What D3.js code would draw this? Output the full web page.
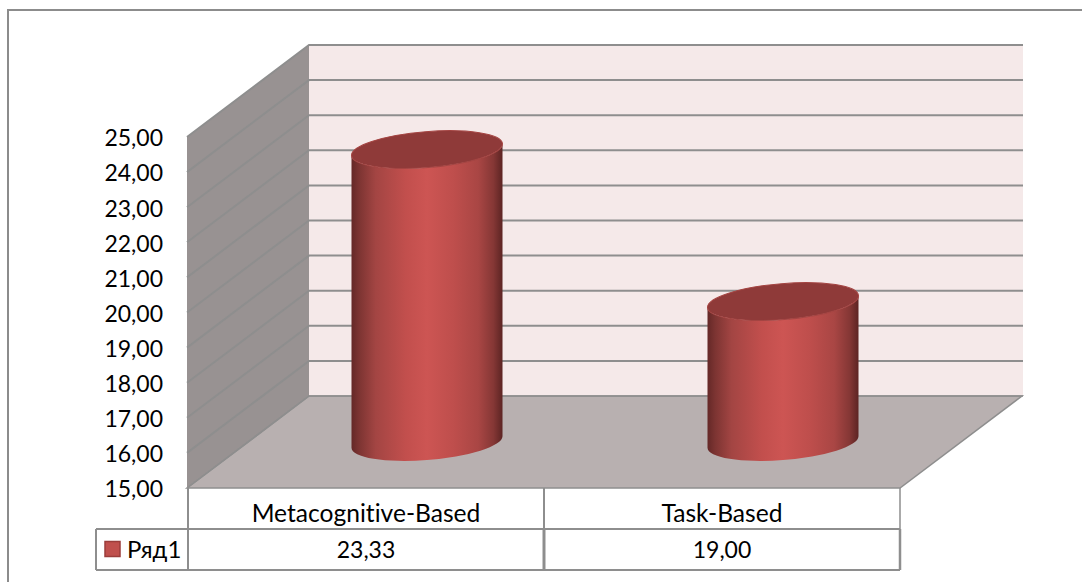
<!DOCTYPE html>
<html>
<head>
<meta charset="utf-8">
<title>Ряд1</title>
<script src="https://cdn.jsdelivr.net/npm/d3@7"></script>
<style>
    html, body { margin: 0; padding: 0; background: #fff; overflow: hidden; }
    text { font-family: Lato, "Open Sans", sans-serif; fill: #000; font-variant-ligatures: none; }
</style>
</head>
<body>
<script>
// Chart values
var categories = ["Metacognitive-Based", "Task-Based"];
var seriesName = "Ряд1";
var seriesValues = [23.33, 19.00];
var valueTicks = [15, 16, 17, 18, 19, 20, 21, 22, 23, 24, 25];

window.onload = function(){

    // SVG dimension variables
    var w = 1082, h = 582;

    // Plot box: front edge of the floor and how far the walls recede
    var left = 188, right = 900, bottom = 488, top = 137;
    var depthX = 122, depthY = -92;

    // Table rows under the plot
    var rowLine = 529, tableBottom = 570, legendLeft = 96;

    var gridColor = "#8e8e8e";

    var svg = d3.select("body")
        .append("svg")
        .attr("width", w)
        .attr("height", h)
        .style("display", "block");

    // Values use a comma as the decimal mark
    var format = function(v){ return d3.format(".2f")(v).replace(".", ","); };

    var x = d3.scaleBand()
        .domain(categories)
        .range([left, right]);

    var y = d3.scaleLinear()
        .domain([valueTicks[0], valueTicks[valueTicks.length - 1]])
        .range([bottom, top]);

    // Horizontal shading of the cylinders
    var grad = svg.append("defs").append("linearGradient")
        .attr("id", "barShade");
    var stops = [
        [0, "#642827"], [0.05, "#7c3432"], [0.16, "#a34543"], [0.36, "#c24f4d"],
        [0.5, "#cd5553"], [0.68, "#be4e4c"], [0.84, "#a94644"], [0.94, "#853735"], [1, "#5c2423"]
    ];
    grad.selectAll("stop")
        .data(stops)
        .enter()
        .append("stop")
        .attr("offset", function(d){ return d[0]; })
        .attr("stop-color", function(d){ return d[1]; });

    // Outer frame, runs off the right and bottom of the page
    svg.append("rect")
        .attr("x", 8)
        .attr("y", 10)
        .attr("width", w)
        .attr("height", h)
        .style("fill", "#fff")
        .style("stroke", "#8c8c8c")
        .style("stroke-width", 2);

    // Back wall
    svg.append("rect")
        .attr("x", left - 1 + depthX)
        .attr("y", top + depthY)
        .attr("width", right - left + 2)
        .attr("height", bottom - top)
        .style("fill", "#f5e9e9");

    // Side wall
    svg.append("polygon")
        .attr("points", [
            [left - 1, top], [left - 1 + depthX, top + depthY],
            [left - 1 + depthX, bottom + depthY], [left - 1, bottom]
        ].join(" "))
        .style("fill", "#989292");

    // Floor
    svg.append("polygon")
        .attr("points", [
            [left - 1, bottom], [left - 1 + depthX, bottom + depthY],
            [right + depthX, bottom + depthY], [right, bottom]
        ].join(" "))
        .style("fill", "#b8b0b0")
        .style("stroke", gridColor)
        .style("stroke-width", 1.5);

    // Gridlines wrap from the side wall onto the back wall
    svg.selectAll(".grid")
        .data(valueTicks)
        .enter()
        .append("polyline")
        .attr("class", "grid")
        .attr("points", function(d){
            return [
                [left - 1, y(d)], [left - 1 + depthX, y(d) + depthY],
                [right + depthX + 1, y(d) + depthY]
            ].join(" ");
        })
        .style("fill", "none")
        .style("stroke", gridColor)
        .style("stroke-width", function(d){ return d === 15 ? 1.5 : 2; });

    // Cylinder shape numbers
    var halfWidth = 75.5, ry = 18;
    var tilt = -4.6 * Math.PI / 180;
    var rx = Math.sqrt((halfWidth * halfWidth - ry * ry * Math.sin(tilt) * Math.sin(tilt)) / (Math.cos(tilt) * Math.cos(tilt)));
    var endRise = (rx * rx - ry * ry) * Math.sin(tilt) * Math.cos(tilt) / halfWidth;
    var tiltDeg = tilt * 180 / Math.PI;

    function centerX(i){ return x(categories[i]) + x.bandwidth() / 2 + depthX / 2; }
    function shift(v){ return y(v) + depthY / 2; }

    var arc = "A" + rx + " " + ry + " " + tiltDeg + " ";

    var bars = svg.selectAll(".bar")
        .data(seriesValues)
        .enter()
        .append("g")
        .attr("class", "bar");

    // Cylinder body
    bars.append("path")
        .attr("d", function(d, i){
            var cx = centerX(i), yTop = shift(d), yBase = shift(valueTicks[0]);
            return "M" + (cx - halfWidth) + " " + (yTop - endRise) +
                "L" + (cx - halfWidth) + " " + (yBase - endRise) +
                arc + "0 0 " + (cx + halfWidth) + " " + (yBase + endRise) +
                "L" + (cx + halfWidth) + " " + (yTop + endRise) +
                arc + "0 1 " + (cx - halfWidth) + " " + (yTop - endRise) + "Z";
        })
        .style("fill", "url(#barShade)");

    // Cylinder cap
    bars.append("ellipse")
        .attr("rx", rx)
        .attr("ry", ry)
        .attr("transform", function(d, i){
            return "translate(" + centerX(i) + "," + shift(d) + ") rotate(" + tiltDeg + ")";
        })
        .style("fill", "#8f3a39")
        .style("stroke", "#a44442")
        .style("stroke-width", 1);

    // Value axis
    var yAxis = d3.axisLeft(y)
        .tickValues(valueTicks)
        .tickSize(0)
        .tickPadding(0)
        .tickFormat(format);

    var axis = svg.append("g")
        .attr("class", "axis")
        .attr("transform", "translate(163,1.5)")
        .call(yAxis);
    axis.select(".domain").remove();
    axis.selectAll("text")
        .style("font-family", "Lato")
        .style("font-size", "23px");

    // Data table lines
    var lines = [
        [left, bottom, left, tableBottom, 2],
        [x.range()[0] + x.step(), bottom, x.range()[0] + x.step(), rowLine, 2],
        [x.range()[0] + x.step(), rowLine, x.range()[0] + x.step(), tableBottom, 3],
        [right, bottom, right, rowLine, 1.5],
        [right, rowLine, right, tableBottom, 2.5],
        [legendLeft, rowLine, right, rowLine, 2],
        [legendLeft, tableBottom, right, tableBottom, 2],
        [legendLeft, rowLine, legendLeft, tableBottom, 2]
    ];
    svg.selectAll(".tableLine")
        .data(lines)
        .enter()
        .append("line")
        .attr("class", "tableLine")
        .attr("x1", function(d){ return d[0]; })
        .attr("y1", function(d){ return d[1]; })
        .attr("x2", function(d){ return d[2]; })
        .attr("y2", function(d){ return d[3]; })
        .style("stroke", gridColor)
        .style("stroke-width", function(d){ return d[4]; });

    // Category row
    svg.selectAll(".catLabel")
        .data(categories)
        .enter()
        .append("text")
        .attr("class", "catLabel")
        .attr("text-anchor", "middle")
        .attr("x", function(d){ return x(d) + x.bandwidth() / 2; })
        .attr("y", 521.5)
        .style("font-size", "24.6px")
        .text(function(d){ return d; });

    // Value row
    svg.selectAll(".valLabel")
        .data(seriesValues)
        .enter()
        .append("text")
        .attr("class", "valLabel")
        .attr("text-anchor", "middle")
        .attr("x", function(d, i){ return x(categories[i]) + x.bandwidth() / 2; })
        .attr("y", 558)
        .style("font-size", "23px")
        .text(function(d){ return format(d); });

    // Legend key and series name
    svg.append("rect")
        .attr("x", 105)
        .attr("y", 541.5)
        .attr("width", 15)
        .attr("height", 15)
        .style("fill", "#c0504d")
        .style("stroke", "#9b3d3b")
        .style("stroke-width", 1.5);

    svg.append("text")
        .attr("x", 127)
        .attr("y", 558)
        .style("font-size", "24px")
        .text(seriesName);
};
</script>
</body>
</html>
